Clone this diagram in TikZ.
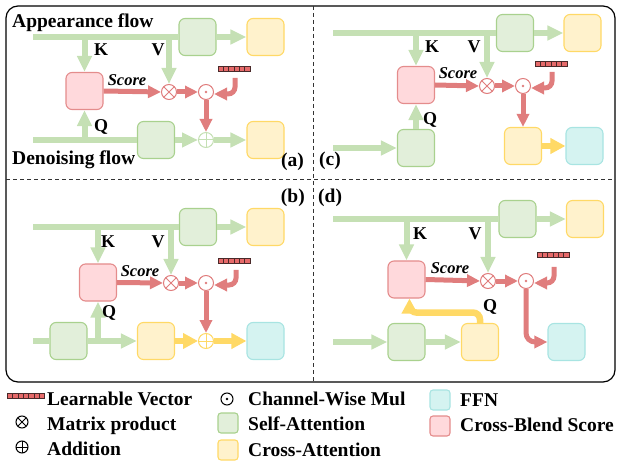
\documentclass[tikz,border=0pt]{standalone}
\usepackage{fontspec}
\setmainfont{Liberation Serif}
\usetikzlibrary{arrows.meta,calc}

\definecolor{flowGreen}{HTML}{C5E0B4}
\definecolor{saFill}{HTML}{E2EFDA}
\definecolor{saLine}{HTML}{A9D18E}
\definecolor{caFill}{HTML}{FFF2CC}
\definecolor{caLine}{HTML}{FFD966}
\definecolor{cbsFill}{HTML}{FFD9DC}
\definecolor{cbsLine}{HTML}{E48C8C}
\definecolor{ffnFill}{HTML}{D5F3F1}
\definecolor{ffnLine}{HTML}{A8E4E2}
\definecolor{flowRed}{HTML}{E07D7D}
\definecolor{flowYellow}{HTML}{FFD966}
\definecolor{vecRed}{HTML}{E66A6A}
\definecolor{vecEdge}{HTML}{4A2A2A}

\tikzset{
  blk/.style={rectangle, minimum width=37pt, minimum height=37pt, rounded corners=6pt, line width=1.1pt, inner sep=0pt},
  sabox/.style={blk, fill=saFill, draw=saLine},
  cabox/.style={blk, fill=caFill, draw=caLine},
  ffnbox/.style={blk, fill=ffnFill, draw=ffnLine},
  cbsbox/.style={blk, fill=cbsFill, draw=cbsLine},
  flowG/.style={draw=flowGreen, line width=6pt},
  flowGa/.style={flowG, -{Triangle[length=16pt,width=14pt]}},
  flowR/.style={draw=flowRed, line width=5pt, -{Triangle[length=13pt,width=12pt]}},
  flowY/.style={draw=flowYellow, line width=6.5pt, -{Triangle[length=15pt,width=15pt]}},
  opnode/.style={circle, minimum size=15pt, inner sep=0pt, fill=white, line width=1pt},
  mulop/.style={opnode, draw=#1, path picture={
      \draw[#1, line width=1pt] (path picture bounding box.north west) -- (path picture bounding box.south east)
        (path picture bounding box.north east) -- (path picture bounding box.south west);}},
  addop/.style={opnode, draw=#1, path picture={
      \draw[#1, line width=1pt] (path picture bounding box.north) -- (path picture bounding box.south)
        (path picture bounding box.east) -- (path picture bounding box.west);}},
  dotop/.style={opnode, draw=#1, path picture={
      \fill[#1] (path picture bounding box.center) circle (1.4pt);}},
  vecbar/.style={rectangle, inner sep=0pt, minimum height=5pt, minimum width=#1*5.3pt,
      fill=vecRed, draw=vecEdge, line width=0.6pt, path picture={
      \foreach \i in {1,...,6} {
        \draw[vecEdge, line width=0.6pt]
          ($(path picture bounding box.north west)!\i/#1!(path picture bounding box.north east)$) --
          ($(path picture bounding box.south west)!\i/#1!(path picture bounding box.south east)$);
      }}},
  ttl/.style={font=\fontsize{19.5}{20}\selectfont\bfseries, inner sep=0pt},
  kvq/.style={font=\fontsize{18}{18}\selectfont\bfseries, inner sep=0pt},
  scr/.style={font=\fontsize{16.5}{17}\selectfont\bfseries\itshape, inner sep=0pt},
  leg/.style={font=\fontsize{19.5}{20}\selectfont\bfseries, inner sep=0pt, anchor=base west},
  divider/.style={line width=0.8pt, black!80, dash pattern=on 4pt off 3pt},
}

\begin{document}
\begin{tikzpicture}[x=1pt, y=-1pt]
\useasboundingbox (0,0) rectangle (618,462);

% outer frame and panel dividers
\draw[line width=1.2pt, rounded corners=12pt] (6,6) rectangle (615,382);
\draw[divider] (6,179) -- (615,179);
\draw[divider] (313,6) -- (313,382);

% ---------------- panel (a) ----------------
\coordinate (a-topin) at (33,37);
\coordinate (a-botin) at (33,140);
\node[sabox] (a-sa1) at (197.5,37) {};
\node[cabox] (a-ca1) at (265.5,37) {};
\node[cbsbox] (a-cbs) at (84.5,91) {};
\node[mulop=flowRed] (a-mul) at (169,92) {};
\node[dotop=flowRed] (a-dot) at (206,92) {};
\node[vecbar=6] (a-vec) at (234,69) {};
\coordinate (a-vs) at (235,78);
\node[addop=flowGreen] (a-add) at (206,140) {};
\node[sabox] (a-sa2) at (156,140) {};
\node[cabox] (a-ca2) at (265.5,140) {};

\draw[flowG] (a-topin) -- (a-sa1.west);
\draw[flowGa] (a-sa1.east) -- (a-ca1.west);
\draw[flowGa] (a-cbs.north |- a-topin) -- (a-cbs.north);
\draw[flowGa] (a-mul.north |- a-topin) -- (a-mul.north);
\draw[flowR] (a-cbs.east) -- (a-mul.west);
\draw[flowR] (a-mul.east) -- (a-dot.west);
\draw[flowR, rounded corners=7pt] (a-vs) |- ($(a-dot.east)+(0,2)$);
\draw[flowR] (a-dot.south) -- (a-add.north);
\draw[flowG] (a-botin) -- (a-sa2.west);
\draw[flowGa] (a-cbs.south |- a-botin) -- (a-cbs.south);
\draw[flowGa] (a-sa2.east) -- (a-add.west);
\draw[flowGa] (a-add.east) -- (a-ca2.west);

\node[ttl, anchor=base west] (a-app) at (12,28) {Appearance flow};
\node[ttl, anchor=base west] (a-den) at (12,165) {Denoising flow};
\node[kvq] (a-k) at (101,50) {K};
\node[kvq] (a-v) at (158,50) {V};
\node[kvq] (a-q) at (101,127) {Q};
\node[scr] (a-score) at (127,80) {Score};
\node[ttl, anchor=base east] (a-tag) at (304,167) {(a)};

% ---------------- panel (b) ----------------
\coordinate (b-topin) at (33,227);
\coordinate (b-botin) at (33,341);
\node[sabox] (b-sa1) at (198,227) {};
\node[cabox] (b-ca1) at (265.5,227) {};
\node[cbsbox] (b-cbs) at (98,282.5) {};
\node[mulop=flowRed] (b-mul) at (171,283) {};
\node[dotop=flowRed] (b-dot) at (206,283) {};
\node[vecbar=6] (b-vec) at (234,261) {};
\coordinate (b-vs) at (236,270);
\node[addop=flowYellow] (b-add) at (206,341) {};
\node[sabox] (b-sa2) at (68.5,341) {};
\node[cabox] (b-ca2) at (156,341) {};
\node[ffnbox] (b-ffn) at (265.5,341) {};

\draw[flowG] (b-topin) -- (b-sa1.west);
\draw[flowGa] (b-sa1.east) -- (b-ca1.west);
\draw[flowGa] (b-cbs.north |- b-topin) -- (b-cbs.north);
\draw[flowGa] (b-mul.north |- b-topin) -- (b-mul.north);
\draw[flowR] (b-cbs.east) -- (b-mul.west);
\draw[flowR] (b-mul.east) -- (b-dot.west);
\draw[flowR, rounded corners=7pt] (b-vs) |- ($(b-dot.east)+(0,2)$);
\draw[flowR] (b-dot.south) -- (b-add.north);
\draw[flowG] (b-botin) -- (b-sa2.west);
\draw[flowGa] (b-sa2.east) -- (b-ca2.west);
\draw[flowGa] (b-cbs.south |- b-botin) -- (b-cbs.south);
\draw[flowY] (b-ca2.east) -- (b-add.west);
\draw[flowY] (b-add.east) -- (b-ffn.west);

\node[kvq] (b-k) at (108,242) {K};
\node[kvq] (b-v) at (158,242) {V};
\node[kvq] (b-q) at (109,313) {Q};
\node[scr] (b-score) at (140,271) {Score};
\node[ttl, anchor=base east] (b-tag) at (305,203) {(b)};

% ---------------- panel (c) ----------------
\coordinate (c-topin) at (333,33);
\coordinate (c-botin) at (333,148);
\node[sabox] (c-sa1) at (515,33) {};
\node[cabox] (c-ca1) at (582.5,33) {};
\node[cbsbox] (c-cbs) at (416,85) {};
\node[mulop=flowRed] (c-mul) at (487,86) {};
\node[dotop=flowRed] (c-dot) at (523,86) {};
\node[vecbar=6] (c-vec) at (551,64) {};
\coordinate (c-vs) at (552,72);
\node[cabox] (c-ca2) at (523,146) {};
\node[ffnbox] (c-ffn) at (584.5,146) {};
\node[sabox] (c-sa2) at (416,148) {};

\draw[flowG] (c-topin) -- (c-sa1.west);
\draw[flowGa] (c-sa1.east) -- (c-ca1.west);
\draw[flowGa] (c-cbs.north |- c-topin) -- (c-cbs.north);
\draw[flowGa] (c-mul.north |- c-topin) -- (c-mul.north);
\draw[flowR] (c-cbs.east) -- (c-mul.west);
\draw[flowR] (c-mul.east) -- (c-dot.west);
\draw[flowR, rounded corners=7pt] (c-vs) |- ($(c-dot.east)+(0,2)$);
\draw[flowR] (c-dot.south) -- (c-ca2.north);
\draw[flowY] (c-ca2.east) -- (c-ffn.west);
\draw[flowGa] (c-botin) -- (c-sa2.west);
\draw[flowGa] (c-sa2.north) -- (c-cbs.south);

\node[kvq] (c-k) at (432,47) {K};
\node[kvq] (c-v) at (474,47) {V};
\node[kvq] (c-q) at (430,120) {Q};
\node[scr] (c-score) at (458,73) {Score};
\node[ttl, anchor=base west] (c-tag) at (319,166) {(c)};

% ---------------- panel (d) ----------------
\coordinate (d-topin) at (333,219);
\coordinate (d-botin) at (333,342);
\node[sabox] (d-sa1) at (517.5,219) {};
\node[cabox] (d-ca1) at (585,219) {};
\node[cbsbox] (d-cbs) at (406.5,279.5) {};
\node[mulop=flowRed] (d-mul) at (488,281) {};
\node[dotop=flowRed] (d-dot) at (526,281) {};
\node[vecbar=6] (d-vec) at (553,255) {};
\coordinate (d-vs) at (554,267);
\node[ffnbox] (d-ffn) at (566.5,342) {};
\node[sabox] (d-sa2) at (406.5,342) {};
\node[cabox] (d-ca2) at (480,342) {};

\draw[flowG] (d-topin) -- (d-sa1.west);
\draw[flowGa] (d-sa1.east) -- (d-ca1.west);
\draw[flowGa] (d-cbs.north |- d-topin) -- (d-cbs.north);
\draw[flowGa] (d-mul.north |- d-topin) -- (d-mul.north);
\draw[flowR] (d-cbs.east) -- (d-mul.west);
\draw[flowR] (d-mul.east) -- (d-dot.west);
\draw[flowR, rounded corners=7pt] (d-vs) |- ($(d-dot.east)+(0,2)$);
\draw[flowR, rounded corners=9pt] (d-dot.south) |- (d-ffn.west);
\draw[flowGa] (d-botin) -- (d-sa2.west);
\draw[flowGa] (d-sa2.east) -- (d-ca2.west);
\draw[flowY, rounded corners=7pt] (d-ca2.north) |- ($(d-cbs.south)+(3,14)$) -- ($(d-cbs.south)+(3,0)$);

\node[kvq] (d-k) at (420,234) {K};
\node[kvq] (d-v) at (475,234) {V};
\node[kvq] (d-q) at (490,307) {Q};
\node[scr] (d-score) at (450,268) {Score};
\node[ttl, anchor=base west] (d-tag) at (318,203) {(d)};

% ---------------- legend ----------------
\node[vecbar=7] (lg-vec) at (26,396) {};
\node[leg] (lg-vec-t) at (47,405) {Learnable Vector};
\node[mulop=black, minimum size=12pt] (lg-mul) at (22,422) {};
\node[leg] (lg-mul-t) at (47,430) {Matrix product};
\node[addop=black, minimum size=12pt] (lg-add) at (22,447) {};
\node[leg] (lg-add-t) at (47,455) {Addition};
\node[dotop=black, minimum size=12pt] (lg-dot) at (227,399) {};
\node[leg] (lg-dot-t) at (248,405) {Channel-Wise Mul};
\node[sabox, minimum size=20pt, rounded corners=3pt] (lg-sa) at (228,423) {};
\node[leg] (lg-sa-t) at (248,430) {Self-Attention};
\node[cabox, minimum size=20pt, rounded corners=3pt] (lg-ca) at (228,450) {};
\node[leg] (lg-ca-t) at (248,456) {Cross-Attention};
\node[ffnbox, minimum size=20pt, rounded corners=3pt] (lg-ffn) at (440,400) {};
\node[leg] (lg-ffn-t) at (460,406) {FFN};
\node[cbsbox, minimum size=20pt, rounded corners=3pt] (lg-cbs) at (440,426) {};
\node[leg] (lg-cbs-t) at (460,431) {Cross-Blend Score};
\end{tikzpicture}
\end{document}
